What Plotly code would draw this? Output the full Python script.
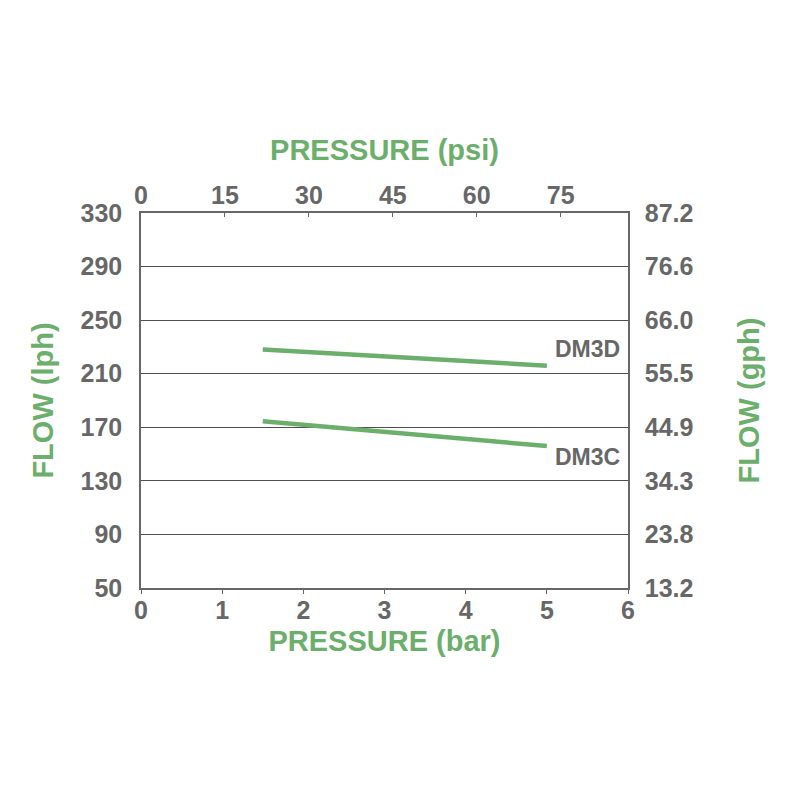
import plotly.graph_objects as go

# pressure (bar) vs flow (lph)
models = ["DM3D", "DM3C"]
pressure_bar = [1.5, 5.0]
flow_dm3d = [228, 216]
flow_dm3c = [174.5, 156]

lph_ticks = [50, 90, 130, 170, 210, 250, 290, 330]
gph_labels = ["13.2", "23.8", "34.3", "44.9", "55.5", "66.0", "76.6", "87.2"]
bar_ticks = [0, 1, 2, 3, 4, 5, 6]
psi_ticks = [0, 15, 30, 45, 60, 75]

PSI_PER_BAR = 14.5038
LPH_PER_GPH = 3.78541

GREEN = "#6cae6c"
GREY = "#676767"
FONT = "Liberation Sans"

fig = go.Figure()

for name, flow in zip(models, [flow_dm3d, flow_dm3c]):
    fig.add_trace(go.Scatter(
        x=pressure_bar, y=flow, mode="lines", name=name,
        line=dict(color=GREEN, width=4.5), showlegend=False,
    ))
    fig.add_annotation(
        x=pressure_bar[-1], y=flow[-1], text="<b>%s</b>" % name,
        xanchor="left", yanchor="middle", showarrow=False,
        xshift=6, yshift=17 if name == "DM3D" else -11,
        font=dict(family=FONT, size=23, color=GREY),
    )

# invisible trace so the secondary axes are drawn
fig.add_trace(go.Scatter(
    x=[0], y=[lph_ticks[0] / LPH_PER_GPH], xaxis="x2", yaxis="y2",
    mode="markers", marker=dict(opacity=0), showlegend=False, hoverinfo="skip",
))

tick_font = dict(family=FONT, size=25, color=GREY)
title_font = dict(family=FONT, size=29, color=GREEN)

fig.update_layout(
    width=800, height=800,
    plot_bgcolor="white", paper_bgcolor="white",
    margin=dict(l=133, r=180, t=205, b=220),
    xaxis=dict(
        range=[0, 6], tickvals=bar_ticks, ticktext=["<b>%d</b>" % v for v in bar_ticks],
        showgrid=False, zeroline=False, showline=True, linecolor=GREY, linewidth=1.5,
        ticks="outside", ticklen=4, tickcolor=GREY, tickfont=tick_font,
        ticklabelstandoff=-5,
        title=dict(text="<b>PRESSURE (bar)</b>", font=title_font, standoff=8),
    ),
    xaxis2=dict(
        range=[0, 6 * PSI_PER_BAR], overlaying="x", side="top",
        tickvals=psi_ticks, ticktext=["<b>%d</b>" % v for v in psi_ticks],
        showgrid=False, zeroline=False, showline=True, linecolor=GREY, linewidth=1.5,
        ticks="inside", ticklen=4, tickcolor=GREY, tickfont=tick_font,
        ticklabelstandoff=-3,
        title=dict(text="<b>PRESSURE (psi)</b>", font=title_font, standoff=12),
    ),
    yaxis=dict(
        range=[50, 330], tickvals=lph_ticks, ticktext=["<b>%d</b>" % v for v in lph_ticks],
        showgrid=True, gridcolor="#4f4f4f", gridwidth=1.3, zeroline=False,
        showline=True, linecolor=GREY, linewidth=1.5,
        ticks="", tickfont=tick_font, ticklabelstandoff=12,
        title=dict(text="<b>FLOW (lph)</b>", font=title_font, standoff=18),
    ),
    yaxis2=dict(
        range=[50 / LPH_PER_GPH, 330 / LPH_PER_GPH], overlaying="y", side="right",
        tickvals=[v / LPH_PER_GPH for v in lph_ticks],
        ticktext=["<b>%s</b>" % t for t in gph_labels],
        showgrid=False, zeroline=False, showline=True, linecolor=GREY, linewidth=1.5,
        ticks="", tickfont=tick_font, ticklabelstandoff=10,
        title=dict(text="<b>FLOW (gph)</b>", font=title_font, standoff=46),
    ),
)

fig.write_html("out.html")
